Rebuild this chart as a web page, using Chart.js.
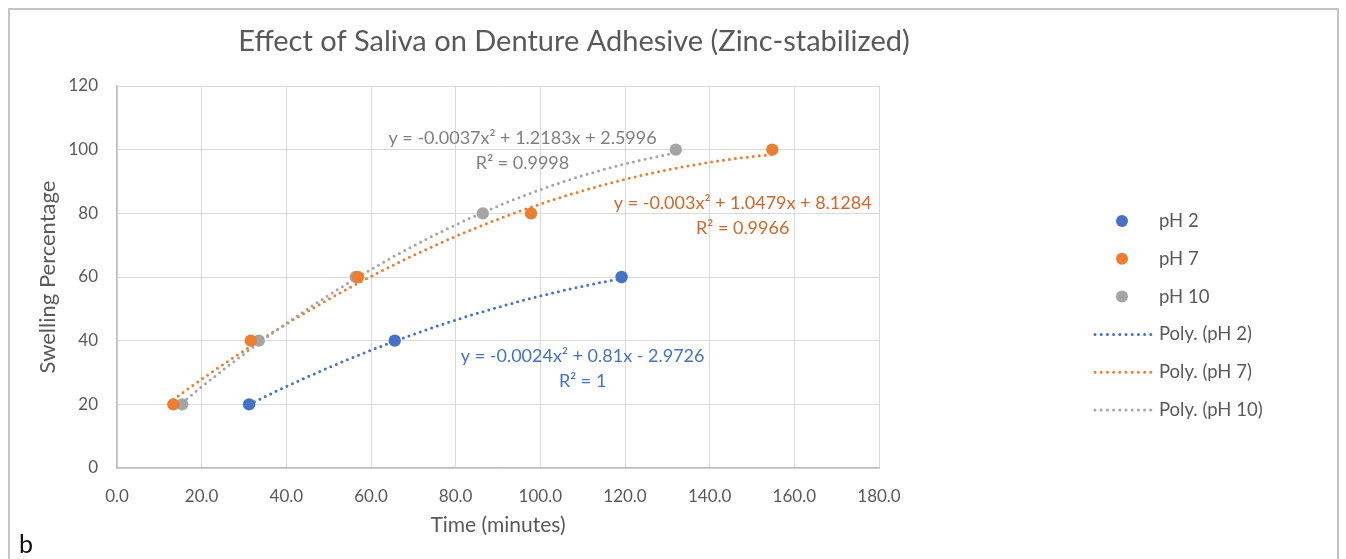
<!DOCTYPE html>
<html>
<head>
<meta charset="utf-8">
<script src="https://cdn.jsdelivr.net/npm/chart.js@4.4.0/dist/chart.umd.min.js"></script>
<style>
  html, body { margin: 0; padding: 0; background: #fff; overflow: hidden; }
  #frame { position: absolute; left: 8px; top: 8px; width: 1327px; height: 600px; border: 2px solid #c4c4c4; border-bottom: none; }
  #wrap { position: absolute; left: 0; top: 0; width: 1346px; height: 559px; }
  #tag { position: absolute; left: 19px; top: 528px; font: 25px Lato, sans-serif; color: #111; }
</style>
</head>
<body>
<div id="frame"></div>
<div id="wrap"><canvas id="chart" width="1346" height="559"></canvas></div>
<div id="tag">b</div>
<script>
const seriesNames = ["pH 2", "pH 7", "pH 10"];
const seriesColors = ["#4472C4", "#ED7D31", "#A5A5A5"];
const labelColors = ["#4472C4", "#D0672A", "#7F7F7F"];

const timePh2 = [31.2, 65.6, 119.2];
const swellPh2 = [20, 40, 60];
const timePh7 = [13.3, 31.6, 56.9, 97.8, 154.8];
const swellPh7 = [20, 40, 60, 80, 100];
const timePh10 = [15.4, 33.5, 56.4, 86.4, 132.0];
const swellPh10 = [20, 40, 60, 80, 100];

// trendline coefficients as printed on the chart: [c, b, a] for a*x^2 + b*x + c
const polyPh2 = [-2.9726, 0.81, -0.0024];
const polyPh7 = [8.1284, 1.0479, -0.003];
const polyPh10 = [2.5996, 1.2183, -0.0037];
const eqLabels = [
  "y = -0.0024x² + 0.81x - 2.9726",
  "y = -0.003x² + 1.0479x + 8.1284",
  "y = -0.0037x² + 1.2183x + 2.5996",
];
const r2Labels = ["R² = 1", "R² = 0.9966", "R² = 0.9998"];

const xTickValues = [0, 20, 40, 60, 80, 100, 120, 140, 160, 180];
const yTickValues = [0, 20, 40, 60, 80, 100, 120];

const FONT = "Lato, sans-serif";
const TEXT = "#595959";

function toPoints(xs, ys) {
  return xs.map((v, i) => ({ x: v, y: ys[i] }));
}

const times = [timePh2, timePh7, timePh10];
const swells = [swellPh2, swellPh7, swellPh10];
const polys = [polyPh2, polyPh7, polyPh10];

// where the equation boxes sit, in data units (centre x, y of first line)
const eqAnchor = [
  { x: 110, y: 35.2 },
  { x: 147.8, y: 83.3 },
  { x: 95.8, y: 103.7 },
];

const trendPlugin = {
  id: "trend",
  beforeDatasetsDraw(chart) {
    const { ctx } = chart;
    const x = chart.scales.x, y = chart.scales.y;
    polys.forEach((c, k) => {
      const x0 = Math.min(...times[k]), x1 = Math.max(...times[k]);
      const p0 = x.getPixelForValue(x0), p1 = x.getPixelForValue(x1);
      ctx.save();
      ctx.strokeStyle = seriesColors[k];
      ctx.lineWidth = 3;
      ctx.lineCap = "round";
      ctx.setLineDash([0, 6]);
      ctx.beginPath();
      for (let px = p0; px <= p1 + 0.01; px += 1) {
        const v = x.getValueForPixel(Math.min(px, p1));
        const py = y.getPixelForValue(c[0] + c[1] * v + c[2] * v * v);
        if (px === p0) ctx.moveTo(px, py); else ctx.lineTo(Math.min(px, p1), py);
      }
      ctx.stroke();
      ctx.restore();
    });
  },
  afterDraw(chart) {
    const { ctx } = chart;
    const x = chart.scales.x, y = chart.scales.y;
    ctx.save();
    // title
    ctx.fillStyle = TEXT;
    ctx.font = "29px " + FONT;
    ctx.textAlign = "center";
    ctx.textBaseline = "middle";
    ctx.fillText("Effect of Saliva on Denture Adhesive (Zinc-stabilized)", 574, 42);

    // trendline equations
    ctx.font = "18px " + FONT;
    eqLabels.forEach((t, k) => {
      const px = x.getPixelForValue(eqAnchor[k].x);
      const py = y.getPixelForValue(eqAnchor[k].y);
      ctx.fillStyle = labelColors[k];
      ctx.fillText(t, px, py);
      ctx.fillText(r2Labels[k], px, py + 25);
    });

    // legend
    const lx = 1093, lw = 58, top = 221, gap = 37.8;
    ctx.font = "18.5px " + FONT;
    ctx.textAlign = "left";
    seriesNames.forEach((n, k) => {
      const cy = top + k * gap;
      ctx.fillStyle = seriesColors[k];
      ctx.beginPath();
      ctx.arc(lx + lw / 2, cy, 6, 0, Math.PI * 2);
      ctx.fill();
      ctx.fillStyle = TEXT;
      ctx.fillText(n, lx + lw + 8, cy);
    });
    seriesNames.forEach((n, k) => {
      const cy = top + (k + 3) * gap;
      ctx.strokeStyle = seriesColors[k];
      ctx.lineWidth = 3;
      ctx.lineCap = "round";
      ctx.setLineDash([0, 6.2]);
      ctx.beginPath();
      ctx.moveTo(lx + 2, cy);
      ctx.lineTo(lx + lw, cy);
      ctx.stroke();
      ctx.fillStyle = TEXT;
      ctx.fillText("Poly. (" + n + ")", lx + lw + 8, cy);
    });
    ctx.restore();
  },
};

new Chart("chart", {
  type: "scatter",
  data: {
    datasets: seriesNames.map((n, k) => ({
      label: n,
      data: toPoints(times[k], swells[k]),
      backgroundColor: seriesColors[k],
      borderWidth: 0,
      pointRadius: 6.2,
      pointHoverRadius: 6.2,
    })),
  },
  options: {
    responsive: false,
    animation: false,
    layout: { padding: { left: 0, top: 86, right: 467, bottom: 0 } },
    plugins: {
      legend: { display: false },
      tooltip: { enabled: false },
    },
    scales: {
      x: {
        type: "linear",
        min: 0,
        max: 180,
        afterBuildTicks: (s) => { s.ticks = xTickValues.map((v) => ({ value: v })); },
        afterFit: (s) => { s.height = 91; },
        ticks: {
          callback: (v) => Number(v).toFixed(1),
          color: TEXT,
          font: { family: FONT, size: 17 },
          padding: 18,
          maxRotation: 0,
        },
        grid: { color: "#D9D9D9", drawTicks: false },
        border: { color: "#BFBFBF", width: 1.5 },
        title: {
          display: true,
          text: "Time (minutes)",
          color: TEXT,
          font: { family: FONT, size: 21 },
          padding: { top: 0, bottom: 21 },
        },
      },
      y: {
        min: 0,
        max: 120,
        afterBuildTicks: (s) => { s.ticks = yTickValues.map((v) => ({ value: v })); },
        afterFit: (s) => { s.width = 117; },
        ticks: {
          color: TEXT,
          font: { family: FONT, size: 17 },
          padding: 19,
        },
        grid: { color: "#D9D9D9", drawTicks: false },
        border: { color: "#BFBFBF", width: 1.5 },
        title: {
          display: true,
          text: "Swelling Percentage",
          color: TEXT,
          font: { family: FONT, size: 22 },
          padding: { top: 35, bottom: 0 },
        },
      },
    },
  },
  plugins: [trendPlugin],
});
</script>
</body>
</html>
